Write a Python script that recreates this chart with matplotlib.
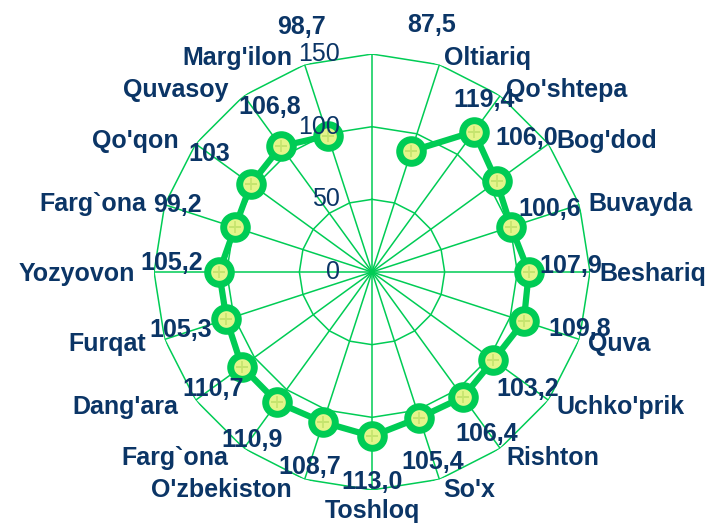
import numpy as np
import matplotlib.pyplot as plt

plt.rcParams['font.family'] = ['Liberation Sans', 'DejaVu Sans']

# first category (top spoke) is empty in the source chart
categories = ['', "Oltiariq", "Qo'shtepa", "Bog'dod", "Buvayda", "Beshariq", "Quva",
              "Uchko'prik", "Rishton", "So'x", "Toshloq", "O'zbekiston", "Farg`ona",
              "Dang'ara", "Furqat", "Yozyovon", "Farg`ona", "Qo'qon", "Quvasoy", "Marg'ilon"]
values = [np.nan, 87.5, 119.4, 106.0, 100.6, 107.9, 109.8, 103.2, 106.4, 105.4, 113.0,
          108.7, 110.9, 110.7, 105.3, 105.2, 99.2, 103, 106.8, 98.7]
value_labels = ['', '87,5', '119,4', '106,0', '100,6', '107,9', '109,8', '103,2', '106,4',
                '105,4', '113,0', '108,7', '110,9', '110,7', '105,3', '105,2', '99,2',
                '103', '106,8', '98,7']
ticks = [0, 50, 100, 150]

# data label offsets from the markers (pixels, screen y down)
label_offsets = [(0, 0), (20, -128), (10, -34), (30, -45), (39, -20), (42, -8), (56, 6),
                 (34, 27), (24, 35), (13, 42), (0, 44), (-13, 43), (-25, 36), (-29, 20),
                 (-46, 9), (-47, -11), (-57, -24), (-42, -32), (-11, -41), (-26, -111)]

green = '#00CC55'
navy = '#0B3566'
fill = '#E4F58A'

n = len(categories)
theta = np.arange(n) * 2 * np.pi / n

fig = plt.figure(figsize=(7.12, 5.27), dpi=100)
ax = fig.add_axes([0.2163, 0.0702, 0.6124, 0.8273], projection='polar')
ax.set_theta_zero_location('N')
ax.set_theta_direction(-1)
ax.set_ylim(0, 150)
ax.set_xticks([])
ax.set_yticks([])
ax.grid(False)
ax.spines['polar'].set_visible(False)

# polygon grid
closed = np.append(theta, theta[0])
for r in ticks[1:]:
    ax.plot(closed, [r] * (n + 1), color=green, lw=1.1, zorder=1)
for t in theta:
    ax.plot([t, t], [0, 150], color=green, lw=1.1, zorder=1)

# series (open line, no value on the top spoke)
ax.plot(theta[1:], values[1:], color=green, lw=4.5, marker='o', ms=17, mew=5,
        mfc=fill, mec=green, zorder=3, clip_on=False)
ax.plot(theta[1:], values[1:], ls='none', marker='+', ms=9, mew=1.2,
        color='#C5E46E', zorder=3.5)

for r in ticks:
    ax.annotate(str(r), xy=(0, r), xytext=(-32, 0), textcoords='offset pixels',
                ha='right', va='center', fontsize=18, color=navy,
                annotation_clip=False, zorder=6)

for i in range(1, n):
    s, c = np.sin(theta[i]), np.cos(theta[i])
    if abs(s) < 0.1:
        ax.annotate(categories[i], xy=(theta[i], 150), xytext=(0, -9),
                    textcoords='offset pixels', ha='center', va='top', fontsize=18,
                    fontweight='bold', color=navy, annotation_clip=False, zorder=5)
    else:
        dx = 2 + 7 * abs(s) if s > 0 else -(10 + 9 * abs(s))
        ax.annotate(categories[i], xy=(theta[i], 150), xytext=(dx, -9 * (1 - c)),
                    textcoords='offset pixels', ha='left' if s > 0 else 'right',
                    va='baseline', fontsize=18, fontweight='bold', color=navy,
                    annotation_clip=False, zorder=5)

    ox, oy = label_offsets[i]
    ax.annotate(value_labels[i], xy=(theta[i], values[i]), xytext=(ox, -oy - 2),
                textcoords='offset pixels', ha='center', va='center', fontsize=18,
                fontweight='bold', color=navy, annotation_clip=False, zorder=5)

fig.savefig('out.png', dpi=100)
